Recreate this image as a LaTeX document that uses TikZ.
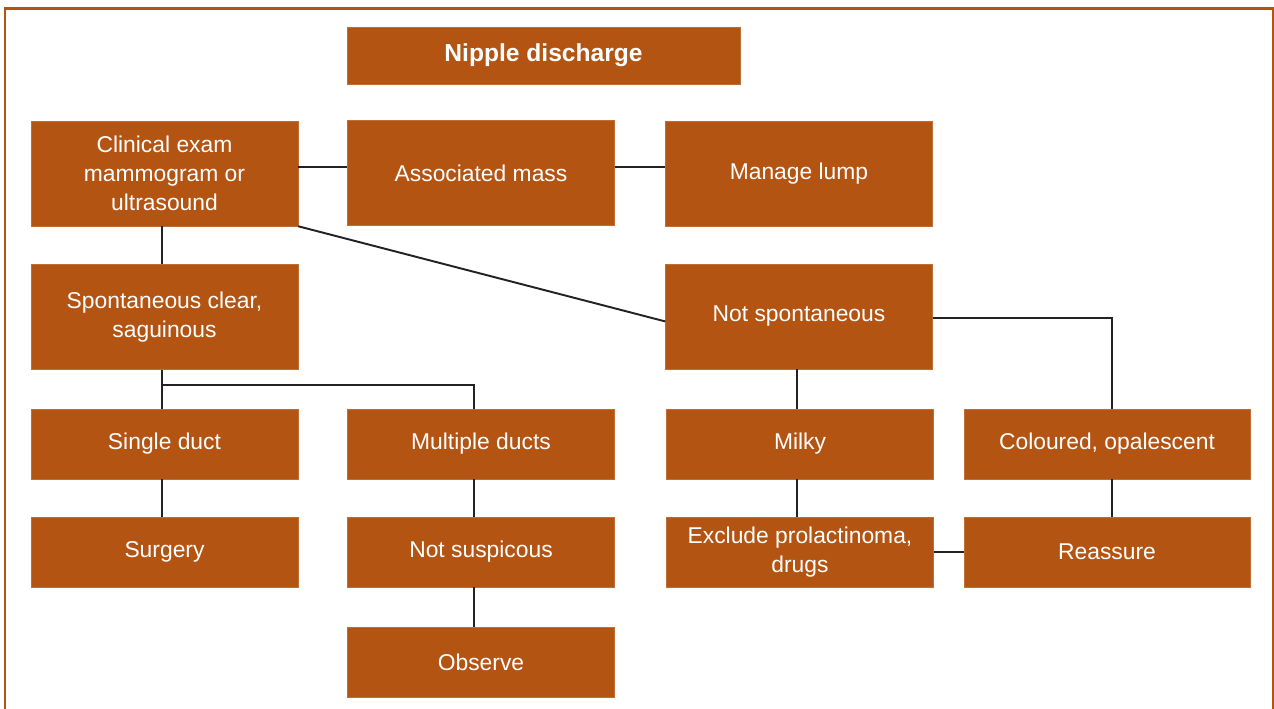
\documentclass[tikz,border=0pt]{standalone}
\usepackage{fontspec}
\setmainfont{Liberation Sans}
\usepackage{tikz}
\usetikzlibrary{positioning, calc}
\definecolor{rust}{HTML}{B45413}
\definecolor{wire}{HTML}{222222}

\begin{document}
\begin{tikzpicture}[x=0.02cm, y=-0.02cm,
		box/.style={fill=rust, draw=rust!85!white, line width=0.3pt, text=white, align=center, inner sep=0pt,
			minimum width=5.34cm, font=\fontsize{13}{16.4}\selectfont},
		tall/.style={minimum height=2.1cm},
		flat/.style={minimum height=1.4cm},
		wide/.style={minimum width=5.72cm},
		link/.style={draw=wire, line width=1.1pt}]
		\useasboundingbox (0,0) rectangle (1274,708);
		\draw[rust, line width=1.2pt] (5,712) -- (5,8.5) -- (1273,8.5) -- (1273,712);
		
		\node[box, minimum width=7.86cm, minimum height=1.14cm, font=\bfseries\fontsize{14}{16}\selectfont] (title) at (543.5,55.5) {Nipple discharge};
		
		\node[box, tall] (clin) at (164.5,173.5) {Clinical exam\\ mammogram or\\ ultrasound};
		\node[box, tall] (mass) at (481,173) {Associated mass};
		\node[box, tall] (lump) at (799,173.5) {Manage lump};
		\node[box, tall] (spont) at (164.5,317) {Spontaneous clear,\\ saguinous};
		\node[box, tall] (notsp) at (799,316.5) {Not spontaneous};
		
		\node[box, flat] (single) at (164.5,444) {Single duct};
		\node[box, flat] (multi) at (481,444) {Multiple ducts};
		\node[box, flat] (milky) at (800,444) {Milky};
		\node[box, flat, wide] (colour) at (1107,444) {Coloured, opalescent};
		
		\node[box, flat] (surgery) at (164.5,552) {Surgery};
		\node[box, flat] (notsusp) at (481,552) {Not suspicous};
		\node[box, flat] (exclude) at (800,552) {Exclude prolactinoma,\\ drugs};
		\node[box, flat, wide] (reassure) at (1107,552) {Reassure};
		\node[box, flat] (observe) at (481,662) {Observe};
		
		\coordinate (fork) at (162,385);
		
		\draw[link] ([yshift=3.5pt]clin.east) -- ([yshift=3.5pt]clin.east -| mass.west);
		\draw[link] ([yshift=3.5pt]clin.east -| mass.east) -- ([yshift=3.5pt]clin.east -| lump.west);
		\draw[link] (clin.south east) -- ([yshift=-2.8pt]notsp.west);
		\draw[link] ([xshift=-1.4pt]clin.south) -- ([xshift=-1.4pt]clin.south |- spont.north);
		\draw[link] ([xshift=-1.4pt]spont.south) -- ([xshift=-1.4pt]spont.south |- single.north);
		\draw[link] (fork) -| ([xshift=-4pt]multi.north);
		\draw[link] ([xshift=-1.4pt]single.south) -- ([xshift=-1.4pt]single.south |- surgery.north);
		\draw[link] ([xshift=-4pt]multi.south) -- ([xshift=-4pt]notsusp.north);
		\draw[link] ([xshift=-4pt]notsusp.south) -- ([xshift=-4pt]observe.north);
		\draw[link] ([xshift=-1.2pt]notsp.south) -- ([xshift=-1.2pt]notsp.south |- milky.north);
		\draw[link] ([yshift=-0.8pt]notsp.east) -| ([xshift=2.8pt]colour.north);
		\draw[link] ([xshift=-1.7pt]milky.south) -- ([xshift=-1.7pt]exclude.north);
		\draw[link] ([xshift=2.8pt]colour.south) -- ([xshift=2.8pt]reassure.north);
		\draw[link] (exclude.east) -- (reassure.west);
\end{tikzpicture}
\end{document}
